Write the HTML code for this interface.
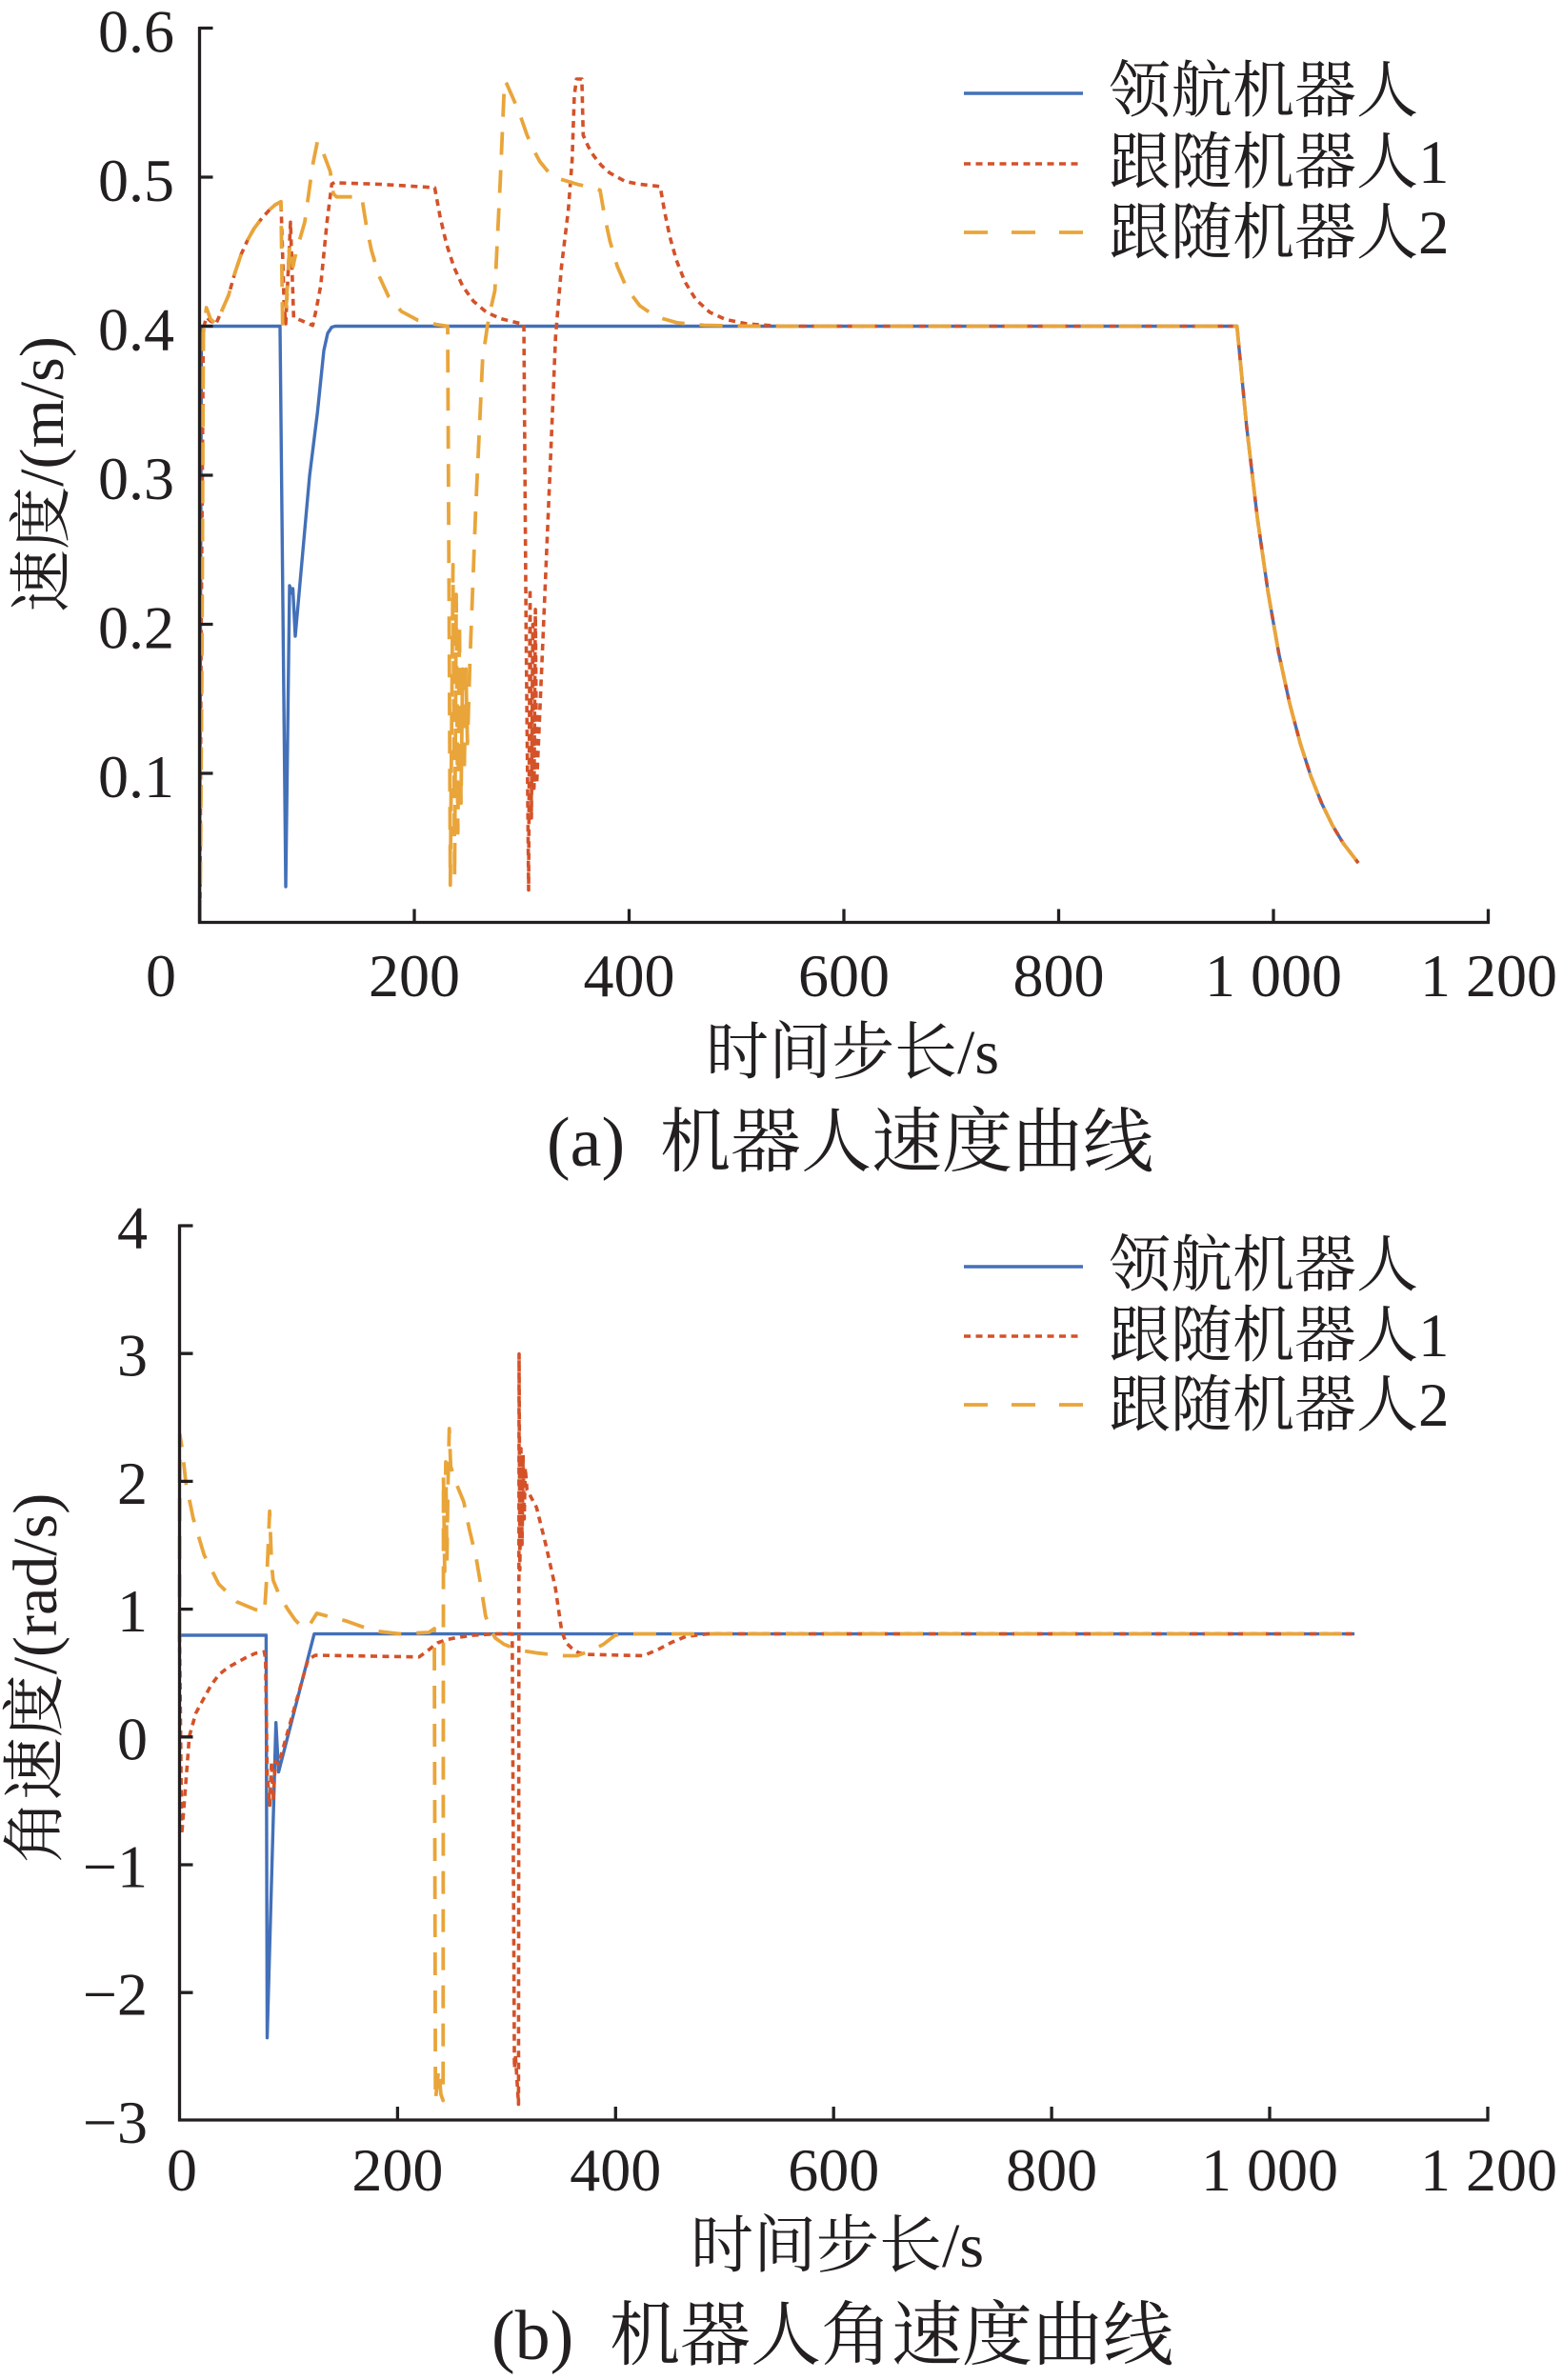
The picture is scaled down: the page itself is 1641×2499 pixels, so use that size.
<!DOCTYPE html>
<html>
<head>
<meta charset="utf-8">
<style>
  html,body{margin:0;padding:0;background:#fff;}
  svg{display:block;}
  text{font-family:"Liberation Serif","Noto Serif CJK SC",serif;fill:#231f20;}
  .tk{font-size:64px;}
  .lb{font-size:66px;}
  .lg{font-size:65px;}
  .cp{font-size:74px;}
  .ax{fill:none;stroke:#231f20;stroke-width:3.3;}
  .b{fill:none;stroke:#4370b8;stroke-width:3.4;stroke-linejoin:round;}
  .r{fill:none;stroke:#d45229;stroke-width:3.6;stroke-dasharray:7 5.5;stroke-linejoin:round;}
  .o{fill:none;stroke:#e9a53a;stroke-width:3.8;stroke-dasharray:24 16;stroke-linejoin:round;}
</style>
</head>
<body>
<svg width="1641" height="2499" viewBox="0 0 1641 2499" xmlns="http://www.w3.org/2000/svg">
<rect width="1641" height="2499" fill="#fff"/>

<!-- ================= TOP CHART ================= -->
<!-- series -->
<polyline class="b" points="209.5,968.5 211.5,342.5 294,342.5 300,931 304,615 306.5,623 307.5,618 310,668 317.5,584 325,500 333.3,433 340,368 344,350 348.3,343.5 352,342.5 1298.7,342.5 1308.8,447.5 1320.1,543.7 1331.4,622.2 1342.6,686 1353.9,738.2 1365.2,780.7 1376.4,815.4 1387.7,843.6 1399,866.7 1410.3,885.5 1426.1,906.1"/>
<polyline class="r" points="210,968.5 211,700 213.5,345 216.7,333 221,337 226.7,340 233,326 240,310 246.5,287 253.3,266.7 260,252 266.7,240 275,229 283.3,220 289,215 295,211.7 298.3,320 300,340 305,233.3 308.3,333.3 316.7,336.7 328.3,341.7 332,325 336.7,300 343.3,233.3 348.3,193.3 352,191 356,192 400,193.5 456.4,197 462.1,227.8 468.8,256.3 476.7,280.7 485.7,300.3 497,316.2 510.5,327.7 525.2,334.5 548.9,340.3 550,340.5 552.3,655.5 555,934.5 556.5,618 557.9,858.9 559.4,655.5 560.7,827.7 562.1,639.9 563.5,823 570.3,665 577.1,503.4 583.3,353.5 589.5,280 596.7,220.4 600.7,168 603,100 605.3,83 610.9,83 612.3,142 617.7,154 623.3,163.5 631.2,173.5 640.2,181.6 656.7,190.6 671.8,193.5 689.8,195.4 693.2,196 697.7,222 703.3,248.7 710.1,273 719.1,295.9 730.4,314.3 745.1,327.8 762,335.5 784.5,340 818.4,342.5 1298.7,342.5 1308.8,447.5 1320.1,543.7 1331.4,622.2 1342.6,686 1353.9,738.2 1365.2,780.7 1376.4,815.4 1387.7,843.6 1399,866.7 1410.3,885.5 1426.1,906.1"/>
<polyline class="o" points="210,968.5 212,700 213.5,350 216.7,323 221,335 226.7,340 233,326 240,310 246.5,287 253.3,266.7 260,252 266.7,240 275,229 283.3,220 289,215 295,211.7 296.7,340 299.7,334.6 304.2,256.7 307.6,280 311,264.3 320,233 328.3,173.3 333.3,148.3 339.2,160 346.7,180 350,203.3 353.3,206.7 379.8,206.7 384.3,235.1 389.9,262.5 397.8,289.4 407.9,311.3 421.5,327 438.4,336.1 457.6,340.6 470,342.5 471.6,655.5 472.8,929.4 475.6,592.9 477.3,921.6 479,624.2 480.7,874.6 482.4,655.5 484,843.3 485.7,702.5 487.4,812 489.1,702.5 490.8,780.7 493.3,696.7 499.3,538 506.7,377 511.7,342.5 516.2,320 519.6,305 525.2,190.6 529.7,85 532,88 539.9,106 546.6,122.4 553.4,142 560.2,157.4 566.7,169.5 575.9,180.8 586.6,187.6 606.4,193.6 621,196.8 630,199.6 634.6,226.1 640.2,252.5 648.1,279.6 658.2,302.9 671.8,321.1 688.7,332.6 711.2,338.9 739.4,341.5 795.8,342.5 1298.7,342.5 1308.8,447.5 1320.1,543.7 1331.4,622.2 1342.6,686 1353.9,738.2 1365.2,780.7 1376.4,815.4 1387.7,843.6 1399,866.7 1410.3,885.5 1426.1,906.1"/>

<!-- axes -->
<path class="ax" d="M209.5,28 V970 M208,968.5 H1564
 M209.5,29.5 h14 M209.5,186 h14 M209.5,342.5 h14 M209.5,499 h14 M209.5,655.5 h14 M209.5,812 h14
 M435,968.5 v-14 M660.5,968.5 v-14 M886,968.5 v-14 M1111.5,968.5 v-14 M1337,968.5 v-14 M1562.5,968.5 v-14"/>

<!-- y tick labels -->
<g class="tk" text-anchor="end">
<text x="183" y="54.5">0.6</text>
<text x="183" y="211">0.5</text>
<text x="183" y="367.5">0.4</text>
<text x="183" y="524">0.3</text>
<text x="183" y="680.5">0.2</text>
<text x="183" y="837">0.1</text>
</g>
<!-- x tick labels -->
<g class="tk" text-anchor="middle">
<text x="169" y="1046">0</text>
<text x="435" y="1046">200</text>
<text x="660.5" y="1046">400</text>
<text x="886" y="1046">600</text>
<text x="1111.5" y="1046">800</text>
<text x="1337" y="1046">1 000</text>
<text x="1563" y="1046">1 200</text>
</g>
<text class="lb" x="741" y="1127">时间步长/s</text>
<text class="lb" text-anchor="middle" transform="translate(66,498) rotate(-90)">速度/(m/s)</text>
<text class="cp" x="574" y="1224">(a)</text>
<text class="cp" x="693" y="1224">机器人速度曲线</text>

<!-- legend top -->
<line x1="1012" y1="98" x2="1137" y2="98" stroke="#4370b8" stroke-width="3.4"/>
<line x1="1012" y1="172" x2="1137" y2="172" stroke="#d45229" stroke-width="3.6" stroke-dasharray="7 5.5"/>
<line x1="1012" y1="244" x2="1137" y2="244" stroke="#e9a53a" stroke-width="3.8" stroke-dasharray="25 25"/>
<text class="lg" x="1164" y="117">领航机器人</text>
<text class="lg" x="1164" y="192">跟随机器人1</text>
<text class="lg" x="1164" y="266">跟随机器人2</text>

<!-- ================= BOTTOM CHART ================= -->
<polyline class="b" points="188.5,1717 279.4,1717 280.5,2139.7 289.7,1808.7 292.5,1860.6 329.9,1715.6 1422.1,1715.6"/>
<polyline class="r" points="188.5,1717 190.8,1926.3 194.2,1883.4 198.8,1823 205.6,1798.8 214.3,1782.7 221.7,1769.3 229.7,1758.6 238.8,1751.2 248.8,1745.6 258.2,1740.5 268,1736 277.5,1734.4 278.8,1742.5 280.5,1863.3 283.2,1895.5 285.1,1849.8 286.8,1890.1 289.1,1849.8 292.5,1852.5 323.4,1742.5 331,1738 440,1739.8 449.2,1733.1 459.5,1725 468.6,1721.7 478.4,1719.7 497.2,1717 520.1,1715.6 537.8,1715.6 540.1,2171.9 541.2,2158.5 544.4,2209.5 545,1421.7 545.8,1648.5 547,1521 548.1,1621.7 549.2,1527.8 550.4,1594.9 551.5,1541.2 553.2,1564 563.3,1582.8 573.3,1623 583,1666.7 589.8,1713 594.4,1725 600.1,1730.4 607,1735.1 613.8,1737.1 675.6,1738.5 691.6,1731.7 705.3,1724.4 720.1,1718.3 743,1715.6 1422.1,1715.6"/>
<polyline class="o" points="188.5,1717 188.8,1506.3 191.4,1522 195,1556 202.8,1594 214.3,1632.7 229.7,1663.3 248.8,1682 268,1690 277.7,1693 280.5,1648.5 283.1,1586.8 285.1,1641.8 286.8,1659.3 293.7,1676 302.3,1690 309.7,1700.7 317.7,1709 324.6,1707 332.6,1694 342.8,1696.7 363.4,1702 382.9,1709 400,1713.3 420.6,1715.6 450.3,1714 456,1710 457.2,2205.5 460.6,2172 462.9,2199 465.2,2205.5 465.6,1550 466.9,1650 468,1535 469.2,1640 470.3,1560 471.7,1500 473.2,1540 480,1560 486.9,1577 492.6,1605 500.1,1636.7 505.2,1667 509.8,1696.7 514.3,1710 520.1,1720 529.2,1726.5 538,1730 552.1,1733.7 564.6,1735.7 589.8,1738.5 605.8,1738.5 620.7,1733 633.3,1726.7 645.8,1717 657.3,1715.6 1422.1,1715.6"/>

<path class="ax" d="M188.5,1285.5 V2227.5 M187,2226 H1563.5
 M188.5,1287 h14 M188.5,1421.2 h14 M188.5,1555.4 h14 M188.5,1689.6 h14 M188.5,1823.8 h14 M188.5,1958 h14 M188.5,2092.2 h14
 M417.4,2226 v-14 M646.3,2226 v-14 M875.2,2226 v-14 M1104.1,2226 v-14 M1333,2226 v-14 M1562,2226 v-14"/>

<g class="tk" text-anchor="end">
<text x="155" y="1310.5">4</text>
<text x="155" y="1444.7">3</text>
<text x="155" y="1578.9">2</text>
<text x="155" y="1713.1">1</text>
<text x="155" y="1847.3">0</text>
<text x="155" y="1981.5">−1</text>
<text x="155" y="2115.7">−2</text>
<text x="155" y="2249.9">−3</text>
</g>
<g class="tk" text-anchor="middle">
<text x="191" y="2300">0</text>
<text x="417.4" y="2300">200</text>
<text x="646.3" y="2300">400</text>
<text x="875.2" y="2300">600</text>
<text x="1104.1" y="2300">800</text>
<text x="1333" y="2300">1 000</text>
<text x="1563" y="2300">1 200</text>
</g>
<text class="lb" x="725" y="2380">时间步长/s</text>
<text class="lb" text-anchor="middle" transform="translate(59,1762) rotate(-90)">角速度/(rad/s)</text>
<text class="cp" x="516" y="2477">(b)</text>
<text class="cp" x="640" y="2477">机器人角速度曲线</text>

<!-- legend bottom -->
<line x1="1012" y1="1330" x2="1137" y2="1330" stroke="#4370b8" stroke-width="3.4"/>
<line x1="1012" y1="1403" x2="1137" y2="1403" stroke="#d45229" stroke-width="3.6" stroke-dasharray="7 5.5"/>
<line x1="1012" y1="1475" x2="1137" y2="1475" stroke="#e9a53a" stroke-width="3.8" stroke-dasharray="25 25"/>
<text class="lg" x="1164" y="1350">领航机器人</text>
<text class="lg" x="1164" y="1424">跟随机器人1</text>
<text class="lg" x="1164" y="1497">跟随机器人2</text>
</svg>
</body>
</html>
